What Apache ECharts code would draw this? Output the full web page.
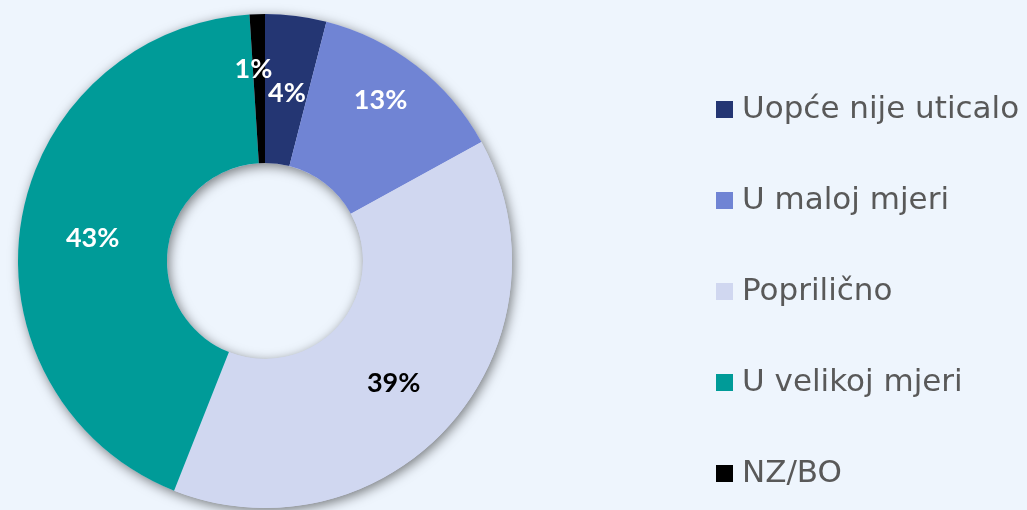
<!DOCTYPE html>
<html>
<head>
<meta charset="utf-8">
<script src="https://cdn.jsdelivr.net/npm/echarts@6/dist/echarts.min.js"></script>
<style>
  html, body { margin: 0; padding: 0; background: #eef5fd; }
  #chart { width: 1027px; height: 510px; }
</style>
</head>
<body>
<div id="chart"></div>
<script>
// data
const categories = ["Uopće nije uticalo", "U maloj mjeri", "Popriličnjo".replace("nj", "n"), "U velikoj mjeri", "NZ/BO"];
const values = [4, 13, 39, 43, 1];
const colors = ["#243673", "#7084d4", "#d0d7f0", "#009b98", "#000000"];
const labelColors = ["#fff", "#fff", "#000", "#fff", "#fff"];
// nudges so the labels sit like in the picture
const labelShift = [[0, 6], [8, -22], [-3, 6], [1, 5], [-6, -16]];

let myChart = echarts.init(document.getElementById("chart"));

const pieData = [];
for (let i = 0; i < values.length; i++) {
  pieData.push({
    name: categories[i],
    value: values[i],
    itemStyle: { color: colors[i] },
    label: { color: labelColors[i], offset: labelShift[i] }
  });
}

const option = {
  backgroundColor: "#eef5fd",
  animation: false,
  legend: {
    orient: "vertical",
    left: 711,
    top: 89,
    itemWidth: 17,
    itemHeight: 17,
    itemGap: 60,
    icon: "rect",
    data: categories,
    textStyle: {
      fontFamily: "DejaVu Sans",
      fontSize: 31,
      lineHeight: 30,
      color: "#595959",
      padding: [0, 0, 0, 4]
    }
  },
  series: [
    {
      // ring underneath only to cast the soft shadow
      type: "pie",
      silent: true,
      center: [265, 261],
      radius: [98, 247],
      label: { show: false },
      labelLine: { show: false },
      itemStyle: {
        color: "#d0d7f0",
        shadowBlur: 12,
        shadowColor: "rgba(0,0,0,0.5)",
        shadowOffsetX: 2,
        shadowOffsetY: 3
      },
      data: [{ name: "_shadow", value: 1 }]
    },
    {
      type: "pie",
      center: [265, 261],
      radius: [98, 247],
      startAngle: 90,
      clockwise: true,
      avoidLabelOverlap: false,
      minShowLabelAngle: 0,
      labelLayout: { hideOverlap: false },
      label: {
        show: true,
        position: "inside",
        formatter: "{c}%",
        fontFamily: "Lato",
        fontWeight: "bold",
        fontSize: 27
      },
      labelLine: { show: false },
      itemStyle: { borderWidth: 0 },
      data: pieData
    }
  ]
};

myChart.setOption(option);
</script>
</body>
</html>
